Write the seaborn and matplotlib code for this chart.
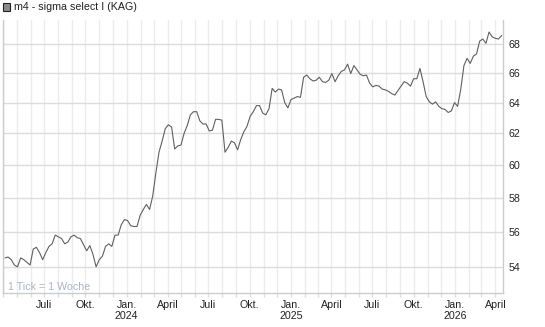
import numpy as np
import pandas as pd
import matplotlib
matplotlib.use("Agg")
import matplotlib.pyplot as plt
import matplotlib.dates as mdates
import seaborn as sns
from matplotlib.ticker import FixedLocator, FixedFormatter, NullLocator
from matplotlib.patches import Rectangle

# ---------------- data ----------------
series_name = "m4 - sigma select I (KAG)"
start_date = "2023-04-05"
values = [
    54.5, 54.55, 54.4, 54.1, 54.0, 54.5, 54.4, 54.25, 54.1, 55.0,
    55.1, 54.8, 54.4, 54.8, 55.15, 55.3, 55.8, 55.7, 55.6, 55.3,
    55.4, 55.7, 55.8, 55.65, 55.6, 55.25, 54.9, 55.2, 54.7, 54.0,
    54.4, 54.6, 55.15, 55.3, 55.15, 55.8, 55.8, 56.4, 56.7, 56.65,
    56.35, 56.3, 56.3, 56.95, 57.3, 57.6, 57.3, 58.1, 59.5, 60.8,
    61.5, 62.3, 62.55, 62.4, 61.0, 61.2, 61.25, 62.0, 62.5, 63.2,
    63.4, 63.4, 62.8, 62.6, 62.6, 62.15, 62.2, 62.9, 62.9, 62.85,
    60.8, 61.1, 61.5, 61.4, 60.95, 61.6, 62.1, 62.45, 63.1, 63.4,
    63.8, 63.8, 63.3, 63.2, 63.6, 64.95, 64.7, 64.9, 64.85, 64.0,
    63.65, 64.2, 64.3, 64.4, 64.35, 65.7, 65.85, 65.6, 65.45, 65.5,
    65.7, 65.4, 65.35, 65.5, 65.95, 65.4, 65.8, 66.1, 66.2, 66.6,
    65.95, 66.5, 66.2, 65.9, 65.8, 65.85, 65.3, 65.05, 65.15, 65.1,
    64.9, 64.85, 64.75, 64.6, 64.5, 64.8, 65.1, 65.4, 65.3, 65.1,
    65.6, 65.6, 66.3, 65.4, 64.4, 64.05, 63.9, 64.05, 63.75, 63.6,
    63.55, 63.35, 63.45, 64.0, 63.75, 64.9, 66.5, 67.0, 66.65, 67.15,
    67.3, 68.2, 68.35, 68.05, 68.85, 68.5, 68.4, 68.35, 68.6,
]
y_ticks = [54, 56, 58, 60, 62, 64, 66, 68]
quarter_ticks = ["2023-07-01", "2023-10-01", "2024-01-01", "2024-04-01",
                 "2024-07-01", "2024-10-01", "2025-01-01", "2025-04-01",
                 "2025-07-01", "2025-10-01", "2026-01-01", "2026-04-01"]
quarter_labels = ["Juli", "Okt.", "Jan.\n2024", "April",
                  "Juli", "Okt.", "Jan.\n2025", "April",
                  "Juli", "Okt.", "Jan.\n2026", "April"]
note_text = "1 Tick = 1 Woche"

dates = pd.date_range(start_date, periods=len(values), freq="7D")
df = pd.DataFrame({"Datum": dates, "Kurs": values})

# ---------------- style ----------------
sns.set_theme(style="white")
plt.rcParams["font.family"] = ["Liberation Sans", "DejaVu Sans"]

W, H = 545, 327
fig = plt.figure(figsize=(W / 100, H / 100), dpi=100)
ax_left, ax_right, ax_top, ax_bottom = 2.7, 503, 20, 293.3
ax = fig.add_axes([ax_left / W, 1 - ax_bottom / H,
                   (ax_right - ax_left) / W, (ax_bottom - ax_top) / H])

sns.lineplot(data=df, x="Datum", y="Kurs", ax=ax, color="#606060", linewidth=0.8)

ax.set_yscale("log")
ax.set_ylim(52.54, 69.71)
ax.yaxis.set_major_locator(FixedLocator(y_ticks))
ax.yaxis.set_major_formatter(FixedFormatter([str(t) for t in y_ticks]))
ax.yaxis.set_minor_locator(NullLocator())
ax.yaxis.tick_right()
ax.tick_params(axis="y", which="major", length=0, pad=4, labelsize=7.7,
               labelcolor="#222222")

ax.set_xlim(pd.Timestamp("2023-03-31"), pd.Timestamp("2026-04-18"))
month_ticks = pd.date_range("2023-04-01", "2026-04-01", freq="MS")
ax.xaxis.set_minor_locator(FixedLocator(mdates.date2num(month_ticks)))
ax.xaxis.set_major_locator(FixedLocator(mdates.date2num(pd.to_datetime(quarter_ticks))))
ax.xaxis.set_major_formatter(FixedFormatter(quarter_labels))
ax.tick_params(axis="x", which="major", length=3, width=1, color="#dddddd",
               pad=1.5, labelsize=7.7, labelcolor="#222222")
ax.tick_params(axis="x", which="minor", length=3, width=1, color="#dddddd")
ax.tick_params(axis="x", which="both", bottom=True)

ax.grid(True, axis="x", which="both", color="#ececec", linewidth=1)
ax.grid(True, axis="y", which="major", color="#dcdcdc", linewidth=1)
ax.set_axisbelow(True)

ax.set_xlabel("")
ax.set_ylabel("")
ax.spines["top"].set_visible(False)
for s in ("left", "right", "bottom"):
    ax.spines[s].set_visible(True)
    ax.spines[s].set_color("#cccccc")
    ax.spines[s].set_linewidth(1)

# legend-like header
fig.patches.append(Rectangle((3 / W, 1 - 11 / H), 7 / W, 8 / H,
                             transform=fig.transFigure, facecolor="#8a8a8a",
                             edgecolor="#222222", linewidth=0.8))
fig.text(14 / W, 1 - 7.5 / H, series_name, fontsize=7.7, color="#222222",
         va="center", ha="left")

fig.text(8 / W, 1 - 286.7 / H, note_text, fontsize=7.7, color="#a9b5c6",
         va="center", ha="left")

fig.savefig("out.png", dpi=100)
